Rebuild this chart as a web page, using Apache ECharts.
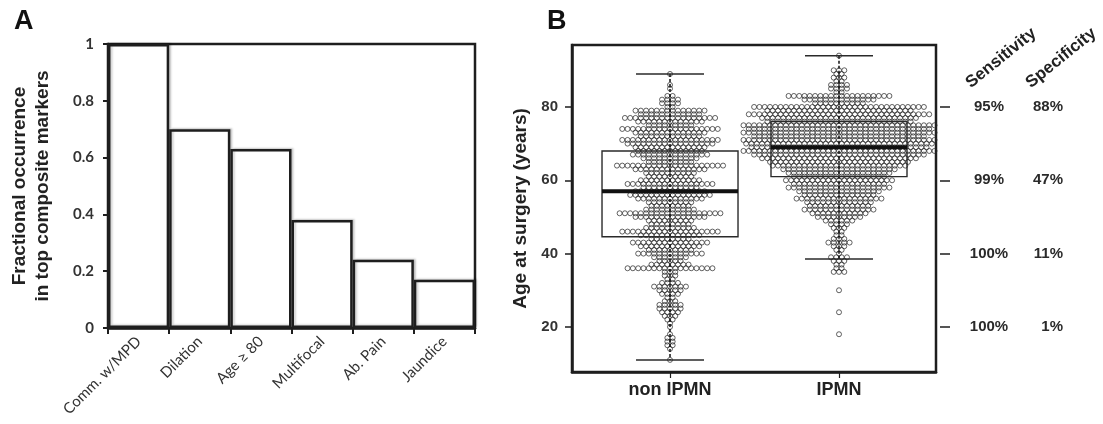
<!DOCTYPE html>
<html><head><meta charset="utf-8">
<script src="https://cdn.jsdelivr.net/npm/echarts@6/dist/echarts.min.js"></script>
<style>html,body{margin:0;padding:0;background:#fff}#c{width:1103px;height:424px}</style>
</head><body><div id="c"></div>
<script>
// ---------- Panel A data ----------
const catA = ['Comm. w/MPD', 'Dilation', 'Age \u2265 80', 'Multifocal', 'Ab. Pain', 'Jaundice'];
const valA = [1.0, 0.70, 0.63, 0.38, 0.24, 0.17];

// ---------- Panel B data ----------
const catB = ['non IPMN', 'IPMN'];
const yTicksB = [20, 40, 60, 80];
// age (years) and number of patients drawn in each row of the swarm
const nonAges   = [89,86,85,83,82,81,80,79,78,77,76,75,74,73,72,71,70,69,68,67,66,65,64,63,62,61,60,59,58,57,56,55,54,53,52,51,50,49,48,47,46,45,44,43,42,41,40,39,38,37,36,35,34,33,32,31,30,29,28,27,26,25,24,23,22,21,20,18,17,16,15,14,11];
const nonCounts = [ 1, 1, 1, 2, 4, 4, 2,14,12,18,13, 9,19,14,12,19,17,14,13,15,11, 9,21,14,10, 9,12,17,11,14,16,13, 9, 8,10,20,14, 9, 8,10,19,12, 8,15,12, 9,13, 7, 5, 8,17, 3, 3, 2, 4, 7, 5, 4, 2, 3, 5, 5, 4, 3, 2, 1, 1, 1, 2, 2, 2, 1, 1];
const ipmnAges   = [94,90,89,88,87,86,85,84,83,82,81,80,79,78,77,76,75,74,73,72,71,70,69,68,67,66,65,64,63,62,61,60,59,58,57,56,55,54,53,52,51,50,49,48,47,46,45,44,43,42,41,40,39,38,37,36,35,30,24,18];
const ipmnCounts = [ 1, 3, 2, 3, 2, 4, 4, 2,20,14,10,33,28,35,30,28,37,35,37,33,37,36,34,37,33,30,27,26,22,20,18,21,18,20,16,14,17,13,12,14,11, 9, 6, 4, 3, 2, 2, 3, 5, 3, 2, 1, 4, 3, 2, 2, 3, 1, 1, 1];
// box-plot summary: [low whisker, Q1, median, Q3, high whisker]
const boxNon  = [11, 44.6, 57, 68, 89];
const boxIpmn = [38.5, 61, 69, 76, 94];
// right-hand cut-off table
const cutAges = [80, 60, 40, 20];
const sensitivity = ['95%', '99%', '100%', '100%'];
const specificity = ['88%', '47%', '11%', '1%'];

// ---------- layout helpers ----------
const DX = 0.0314; // horizontal dot spacing in x-axis units
function swarm(center, ages, counts) {
  const pts = [];
  ages.forEach((a, i) => {
    const n = counts[i];
    for (let k = 0; k < n; k++) pts.push([center + (k - (n - 1) / 2) * DX, a]);
  });
  return pts;
}
const swarmData = swarm(1, nonAges, nonCounts).concat(swarm(2, ipmnAges, ipmnCounts));
const boxData = [[1].concat(boxNon), [2].concat(boxIpmn)];

const ink = '#1e1e1e';
const chart = echarts.init(document.getElementById('c'), null, {renderer: 'canvas'});
const yMinB = 7.7, yMaxB = 96.9;

chart.setOption({
  animation: false,
  grid: [
    {left: 108, top: 44, width: 367, height: 284, show: true, borderColor: ink, borderWidth: 2.5, backgroundColor: 'transparent'},
    {left: 572, top: 45, width: 364, height: 327, show: true, borderColor: ink, borderWidth: 2.5, backgroundColor: 'transparent'}
  ],
  xAxis: [
    {gridIndex: 0, type: 'category', data: catA, boundaryGap: true,
     axisLine: {lineStyle: {color: ink, width: 2.5}},
     axisTick: {show: true, length: 6, lineStyle: {color: ink, width: 2}},
     axisLabel: {interval: 0, rotate: 45, margin: 11, color: '#333', fontFamily: 'Lato', fontSize: 15}},
    {gridIndex: 1, type: 'value', min: 0.42, max: 2.574,
     splitLine: {show: false},
     axisLine: {lineStyle: {color: ink, width: 2.5}},
     axisTick: {show: true, length: 6, customValues: [1, 2], lineStyle: {color: ink, width: 1.2}},
     axisLabel: {customValues: [1, 2], margin: 9, color: '#222', fontFamily: 'Liberation Sans', fontWeight: 'bold', fontSize: 18,
       formatter: v => catB[Math.round(v) - 1]}}
  ],
  yAxis: [
    {gridIndex: 0, type: 'value', min: 0, max: 1, interval: 0.2,
     name: 'Fractional occurrence\nin top composite markers', nameLocation: 'middle', nameGap: 54, nameRotate: 90,
     nameTextStyle: {fontFamily: 'Liberation Sans', fontWeight: 'bold', fontSize: 19, color: '#222', lineHeight: 23},
     splitLine: {show: false},
     axisLine: {show: true, lineStyle: {color: ink, width: 2.5}},
     axisTick: {show: true, length: 5, lineStyle: {color: ink, width: 2}},
     axisLabel: {margin: 14, color: '#333', fontFamily: 'Lato', fontWeight: 'bold', fontSize: 15,
       formatter: v => (v === 0 || v === 1) ? String(v) : v.toFixed(1)}},
    {gridIndex: 1, type: 'value', min: yMinB, max: yMaxB,
     name: 'Age at surgery (years)', nameLocation: 'middle', nameGap: 42, nameRotate: 90,
     nameTextStyle: {fontFamily: 'Liberation Sans', fontWeight: 'bold', fontSize: 19, color: '#222'},
     splitLine: {show: false},
     axisLine: {show: true, lineStyle: {color: ink, width: 2.5}},
     axisTick: {show: true, length: 7, customValues: yTicksB, lineStyle: {color: ink, width: 1.5}},
     axisLabel: {customValues: yTicksB, margin: 14, color: '#333', fontFamily: 'Liberation Sans', fontWeight: 'bold', fontSize: 15}},
    {gridIndex: 1, type: 'value', min: yMinB, max: yMaxB, position: 'right', offset: 4,
     splitLine: {show: false},
     axisLine: {show: false},
     axisTick: {show: true, length: 10, customValues: cutAges, lineStyle: {color: ink, width: 1.5}},
     axisLabel: {customValues: cutAges, margin: 20, color: '#2a2a2a', fontFamily: 'Liberation Sans', fontWeight: 'bold', fontSize: 15,
       formatter: v => { const i = cutAges.indexOf(Math.round(v)); return '{a|' + sensitivity[i] + '}{b|' + specificity[i] + '}'; },
       rich: {a: {width: 58, align: 'center', fontFamily: 'Liberation Sans', fontWeight: 'bold', fontSize: 15, color: '#2a2a2a'},
              b: {width: 45, align: 'right', fontFamily: 'Liberation Sans', fontWeight: 'bold', fontSize: 15, color: '#2a2a2a'}}}}
  ],
  series: [
    {type: 'bar', xAxisIndex: 0, yAxisIndex: 0, data: valA, barWidth: '100%', barCategoryGap: 0,
     itemStyle: {color: '#fff', borderColor: ink, borderWidth: 2.5, shadowColor: 'rgba(0,0,0,0.18)', shadowBlur: 2, shadowOffsetX: 2, shadowOffsetY: -1}},
    {type: 'scatter', xAxisIndex: 1, yAxisIndex: 1, data: swarmData, symbol: 'circle', symbolSize: 5,
     itemStyle: {color: 'rgba(255,255,255,0)', borderColor: '#262626', borderWidth: 0.9}, silent: true, z: 2},
    {type: 'custom', xAxisIndex: 1, yAxisIndex: 1, data: boxData, encode: {x: 0, y: [1, 2, 3, 4, 5]}, z: 3,
     renderItem: function (params, api) {
       const x = api.value(0);
       const pLow = api.coord([x, api.value(1)]), pQ1 = api.coord([x, api.value(2)]),
             pMed = api.coord([x, api.value(3)]), pQ3 = api.coord([x, api.value(4)]), pHigh = api.coord([x, api.value(5)]);
       const cx = pMed[0], hb = 68, hc = 34;
       return {type: 'group', children: [
         {type: 'line', shape: {x1: cx, y1: pHigh[1], x2: cx, y2: pLow[1]}, style: {stroke: '#111', lineWidth: 1.5, lineDash: [3, 2]}},
         {type: 'rect', shape: {x: cx - hb, y: pQ3[1], width: 2 * hb, height: pQ1[1] - pQ3[1]}, style: {fill: null, stroke: '#2a2a2a', lineWidth: 1.4}},
         {type: 'line', shape: {x1: cx - hb, y1: pMed[1], x2: cx + hb, y2: pMed[1]}, style: {stroke: '#111', lineWidth: 4}},
         {type: 'line', shape: {x1: cx - hc, y1: pHigh[1], x2: cx + hc, y2: pHigh[1]}, style: {stroke: '#2a2a2a', lineWidth: 1.5}},
         {type: 'line', shape: {x1: cx - hc, y1: pLow[1], x2: cx + hc, y2: pLow[1]}, style: {stroke: '#2a2a2a', lineWidth: 1.5}}
       ]};
     }}
  ],
  graphic: [
    {type: 'text', x: 14, y: 8, style: {text: 'A', font: 'bold 27px "Liberation Sans"', fill: '#111'}},
    {type: 'text', x: 547, y: 8, style: {text: 'B', font: 'bold 27px "Liberation Sans"', fill: '#111'}},
    {type: 'text', x: 1001, y: 58, rotation: 0.68, style: {text: 'Sensitivity', font: 'bold 17px "Liberation Sans"', fill: '#222', align: 'center', verticalAlign: 'middle'}},
    {type: 'text', x: 1061, y: 58, rotation: 0.68, style: {text: 'Specificity', font: 'bold 17px "Liberation Sans"', fill: '#222', align: 'center', verticalAlign: 'middle'}}
  ]
});
</script></body></html>
